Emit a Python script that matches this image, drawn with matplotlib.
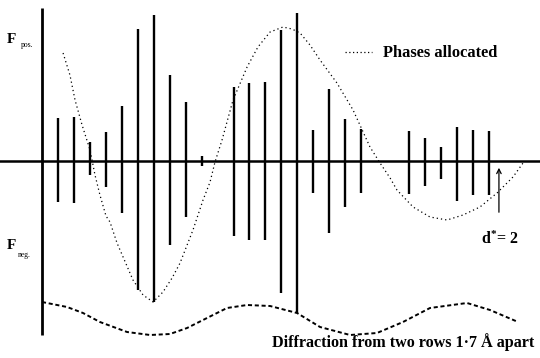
import matplotlib
matplotlib.use("Agg")
import matplotlib.pyplot as plt
from matplotlib.lines import Line2D

plt.rcParams["mathtext.fontset"] = "custom"
plt.rcParams["mathtext.bf"] = "Liberation Serif:bold"
plt.rcParams["mathtext.rm"] = "Liberation Serif"

# ---- data (arbitrary F units, reflection index along x) ----
index = [1, 2, 3, 4, 5, 6, 7, 8, 9, 10, 12, 13, 14, 15, 16, 17, 18, 19, 20,
         23, 24, 25, 26, 27, 28]
F_pos = [43, 44, 19, 29, 55, 132, 146, 86, 59, 5, 74, 78, 79, 131, 148, 31,
         72, 42, 32, 30, 23, 14, 34, 31, 30]
F_neg = [41, 42, 14, 26, 52, 129, 141, 84, 56, 5, 75, 79, 79, 132, 152, 32,
         72, 46, 32, 33, 25, 18, 40, 34, 34]

phase_x = [1.32, 1.75, 2.07, 2.51, 3.01, 3.32, 3.63, 4.01, 4.26, 4.70, 5.08,
           5.70, 6.33, 6.96, 7.58, 8.15, 8.65, 9.46, 10.09, 10.53, 10.84,
           11.28, 11.97, 12.85, 13.53, 14.29, 15.10, 15.66, 16.17, 16.79,
           17.42, 18.48, 19.49, 20.55, 21.18, 21.81, 22.24, 23.25, 24.31,
           25.38, 26.38, 27.44, 28.51, 29.51, 30.14]
phase_y = [108, 86, 61, 36, 11, -14, -34, -55, -61, -82, -96, -119, -134,
           -141, -131, -117, -102, -69, -39, -21, -1, 21, 61, 94, 114, 129,
           134, 132, 128, 116, 101, 78, 51, 14, -2, -17, -29, -46, -56, -59,
           -54, -46, -32, -16, -2]

rows_x = [0.0, 1.57, 2.57, 3.63, 5.33, 6.77, 8.02, 9.09, 10.34, 11.59,
          12.85, 14.29, 15.98, 17.42, 19.30, 20.99, 22.62, 24.31, 26.63,
          28.07, 29.83]
rows_y = [-141, -146, -152, -161, -171, -174, -173, -167, -157, -147, -144,
          -145, -152, -166, -174, -172, -161, -147, -142, -149, -161]

d_star_index = 28.63

# ---- figure ----
W, H = 540, 358
fig = plt.figure(figsize=(W / 100, H / 100), dpi=100)
fig.patch.set_facecolor("white")
ax = fig.add_axes([0, 0, 1, 1])
ax.set_xlim(-42 / 15.96, (540 - 42) / 15.96)
ax.set_ylim(-197, 161)
ax.axis("off")

def fp(px, py):
    return (px / W, 1 - py / H)

serif = ["Liberation Serif", "DejaVu Serif"]

# axis and baseline
ax.plot([0, 0], [153, -174], color="black", lw=2.0, solid_capstyle="butt")
ax.axhline(0, color="black", lw=1.8)

# bars
ax.vlines(index, [-v for v in F_neg], F_pos, color="black", lw=1.7)

# phases allocated (dotted)
ax.plot(phase_x, phase_y, color="black", lw=0.9, linestyle=(0, (1, 2.4)))

# diffraction from two rows (dashed)
ax.plot(rows_x, rows_y, color="black", lw=1.4, linestyle=(0, (2.1, 1.4)))

# arrow d* = 2
ax.annotate("", xy=(d_star_index, -4), xytext=(d_star_index, -54),
            arrowprops=dict(arrowstyle="->", color="black", lw=0.9,
                            mutation_scale=8))

# labels
fig.text(*fp(7, 43), "F", fontsize=11, fontweight="bold", family=serif,
         ha="left", va="baseline")
fig.text(*fp(21, 47), "pos.", fontsize=5.5, family=serif, ha="left",
         va="baseline")
fig.text(*fp(7, 249), "F", fontsize=11, fontweight="bold", family=serif,
         ha="left", va="baseline")
fig.text(*fp(18, 257), "neg.", fontsize=5.5, family=serif, ha="left",
         va="baseline")

fig.add_artist(Line2D([345 / W, 372 / W], [1 - 52 / H, 1 - 52 / H],
                      color="black", lw=0.9, linestyle=(0, (1, 2.0))))
fig.text(*fp(383, 57), "Phases allocated", fontsize=11.8, fontweight="bold",
         family=serif, ha="left", va="baseline")

fig.text(*fp(481, 244), r"$\mathbf{d^{*}}$= 2", fontsize=11.5,
         fontweight="bold", family=serif, ha="left", va="baseline")

fig.text(*fp(272, 347), "Diffraction from two rows 1·7 Å apart", fontsize=11.6,
         fontweight="bold", family=serif, ha="left", va="baseline")

fig.savefig("out.png", dpi=100, facecolor="white")
